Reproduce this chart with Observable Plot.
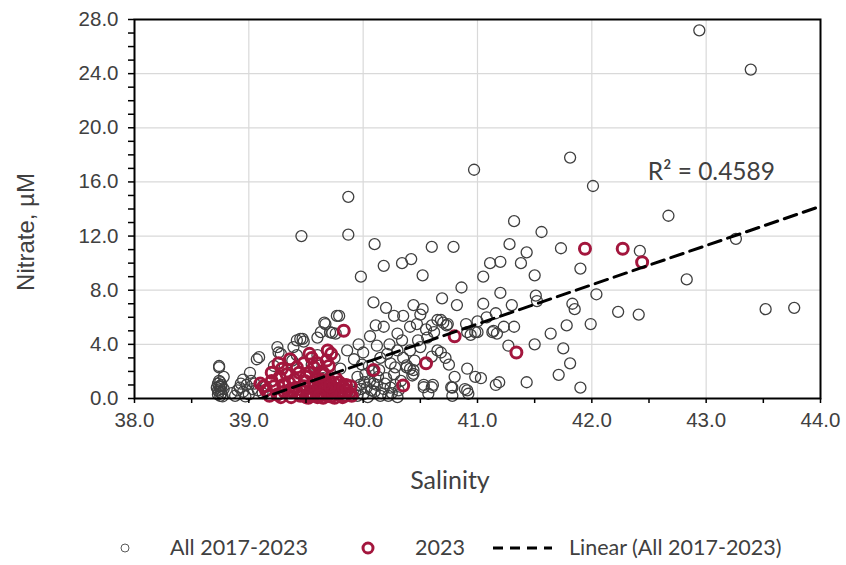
<!DOCTYPE html>
<html>
<head>
<meta charset="utf-8">
<script src="https://cdn.jsdelivr.net/npm/d3@7"></script>
<script src="https://cdn.jsdelivr.net/npm/@observablehq/plot@0.6"></script>
<style>
  body { margin: 0; background: #fff; }
  #chart { position: relative; width: 846px; height: 565px; overflow: hidden; background: #fff; }
  #chart > svg { position: absolute; left: 0; top: 0; }
  .xtitle { position: absolute; left: 350px; width: 200px; top: 464px; text-align: center;
            font: 25px Lato, "Open Sans", sans-serif; color: #404040; line-height: 30px; }
  .ytitle { position: absolute; left: 28px; top: 232px; width: 300px; margin-left: -150px; margin-top: -16px;
            height: 32px; line-height: 32px; text-align: center; transform: rotate(-90deg);
            font: 24px "Liberation Sans", Arial, sans-serif; color: #404040; }
  .leg { position: absolute; top: 534px; height: 28px; line-height: 28px;
         font: 21.5px Lato, "Open Sans", sans-serif; color: #404040; white-space: nowrap; }
  .leg svg { position: absolute; top: 0; }
</style>
</head>
<body>
<div id="chart"></div>
<script>
// Salinity vs nitrate, all samples 2017-2023: [salinity, nitrate µM]
const all20172023 = [
  [42.94, 27.2], [43.39, 24.3], [40.97, 16.9], [41.81, 17.8], [42.01, 15.7],
  [39.87, 14.9], [39.46, 12.0], [39.87, 12.1], [40.10, 11.4], [40.18, 9.8],
  [40.34, 10.0], [40.42, 10.3], [40.60, 11.2], [40.79, 11.2], [39.98, 9.0],
  [40.52, 9.1], [40.86, 8.2], [40.09, 7.1], [40.20, 6.7], [40.27, 6.1],
  [40.35, 6.1], [40.44, 6.9], [40.52, 6.6], [40.50, 6.2], [40.69, 7.4],
  [40.82, 6.9], [39.79, 6.1], [39.66, 5.6], [39.63, 4.9], [39.73, 4.85],
  [40.11, 5.4], [40.18, 5.3], [39.47, 4.4], [39.42, 4.3], [39.96, 4.0],
  [40.06, 4.6], [40.23, 4.0], [40.34, 4.3], [40.41, 5.3], [40.65, 5.8],
  [40.74, 5.5], [39.25, 3.8], [39.28, 3.3], [39.07, 2.9], [38.74, 2.3],
  [38.78, 1.6], [42.67, 13.5], [43.26, 11.8], [41.32, 13.1], [41.56, 12.3],
  [41.28, 11.4], [41.43, 10.8], [41.73, 11.1], [42.42, 10.9], [41.11, 10.0],
  [41.20, 10.1], [41.38, 10.0], [41.90, 9.6], [41.05, 9.0], [41.50, 9.1],
  [42.83, 8.8], [41.20, 7.8], [41.51, 7.6], [41.52, 7.2], [42.04, 7.7],
  [41.05, 7.0], [41.30, 6.9], [41.83, 7.0], [41.85, 6.6], [43.52, 6.6],
  [43.77, 6.7], [41.08, 6.0], [41.16, 6.3], [40.68, 5.8], [40.98, 4.9],
  [40.94, 4.7], [41.14, 5.0], [41.17, 4.8], [41.23, 5.3], [41.32, 5.3],
  [41.78, 5.4], [41.99, 5.5], [42.23, 6.4], [42.41, 6.2], [41.64, 4.8],
  [41.50, 4.0], [41.27, 3.9], [41.75, 3.7], [41.81, 2.6], [41.71, 1.75],
  [41.90, 0.8], [41.43, 1.2], [41.16, 1.0], [41.19, 1.2], [40.91, 2.2],
  [40.98, 1.6], [41.03, 1.5], [40.75, 2.5], [40.80, 1.6], [40.78, 0.8],
  [40.78, 0.2], [40.91, 0.6], [40.68, 3.4], [40.89, 0.7], [40.92, 0.35],
  [40.53, 1.0], [40.61, 1.0], [40.57, 0.35], [40.24, 2.6], [40.28, 2.3],
  [40.38, 2.3], [40.44, 2.1], [40.43, 1.7], [40.21, 3.3], [40.30, 3.55],
  [40.41, 3.55], [40.50, 3.8], [40.56, 4.5], [40.65, 3.55], [40.91, 4.9],
  [41.00, 4.9], [41.13, 4.9], [40.70, 5.6], [40.73, 5.4], [40.47, 5.5],
  [40.38, 2.44], [40.41, 2.19], [40.44, 1.82], [40.53, 0.83], [40.60, 0.83],
  [40.77, 0.83], [40.15, 3.0], [40.35, 3.0], [40.45, 2.8], [40.60, 3.1],
  [40.72, 3.0], [40.55, 5.1], [40.60, 5.4], [40.30, 4.8], [40.00, 3.4],
  [40.12, 3.9], [40.48, 4.3], [40.62, 4.9], [40.90, 5.5], [41.00, 5.7],
  [38.74, 2.4], [38.75, 1.2], [38.74, 0.9], [38.73, 0.6], [38.76, 0.4],
  [38.72, 0.8], [38.78, 0.7], [38.75, 0.2], [38.76, 1.0], [38.73, 0.3],
  [38.74, 0.5], [38.75, 0.7], [38.73, 1.1], [38.77, 0.15], [38.74, 1.3],
  [38.76, 0.9], [38.85, 0.4], [38.97, 0.15], [39.08, 0.6], [39.02, 1.3],
  [38.93, 1.1],
  [39.09, 3.05], [39.26, 3.4], [39.01, 1.9], [39.45, 4.4], [39.48, 4.2],
  [39.67, 5.5], [39.77, 6.1], [39.71, 4.9], [39.86, 3.55], [39.92, 2.9],
  [39.60, 4.5], [39.76, 4.8], [39.39, 3.8],
  [38.92, 0.8], [38.95, 0.5], [38.98, 1.0], [39.00, 0.3], [39.03, 0.7],
  [38.88, 0.2], [38.95, 1.4], [39.05, 1.1], [39.12, 0.4], [39.15, 0.9],
  [38.90, 0.6], [39.93, 0.5], [39.97, 1.0], [40.00, 0.3], [40.03, 0.8],
  [40.06, 1.3], [40.10, 0.5], [40.12, 1.0], [40.15, 0.2], [40.18, 0.7],
  [40.20, 1.5], [40.25, 0.4], [40.28, 1.0], [39.95, 1.6], [40.02, 1.8],
  [40.08, 2.0], [39.55, 2.5], [39.60, 3.2], [39.75, 3.0], [39.80, 2.2],
  [39.65, 1.5], [39.38, 2.8], [39.35, 1.9], [39.22, 2.4], [39.42, 3.2],
  [39.95, 0.2], [39.98, 0.7], [40.01, 1.2], [40.04, 0.1], [40.07, 0.6],
  [40.09, 1.1], [40.13, 1.6], [40.16, 0.4], [40.19, 1.1], [40.22, 0.2],
  [40.24, 0.8], [40.27, 1.8], [40.31, 0.6], [40.33, 1.3], [40.05, 2.4],
  [40.14, 2.1], [39.99, 2.5], [40.30, 0.1]
];

// Samples from 2023: [salinity, nitrate µM]
const year2023 = [
  [39.83, 5.0], [40.80, 4.6], [41.94, 11.06], [42.27, 11.06], [42.44, 10.07],
  [41.34, 3.4], [40.55, 2.6], [40.09, 2.1], [40.35, 0.96], [39.53, 3.3],
  [39.69, 3.55], [39.72, 3.3], [39.29, 2.2], [39.10, 1.1],
  [39.15, 0.6], [39.20, 1.3], [39.25, 0.3], [39.30, 1.0], [39.33, 1.8],
  [39.38, 0.5], [39.40, 1.4], [39.42, 2.3], [39.45, 0.2], [39.48, 0.9],
  [39.50, 1.6], [39.55, 0.4], [39.57, 1.2], [39.60, 0.1], [39.62, 0.7],
  [39.64, 2.0], [39.66, 0.3], [39.68, 1.0], [39.70, 0.5], [39.72, 0.15],
  [39.74, 0.8], [39.76, 1.5], [39.78, 0.3], [39.80, 0.6], [39.82, 0.1],
  [39.85, 1.0], [39.88, 0.4], [39.60, 2.6], [39.36, 2.9], [39.52, 0.05],
  [39.65, 0.05], [39.75, 0.05], [39.58, 0.6], [39.70, 2.4],
  [39.18, 0.2], [39.22, 0.9], [39.27, 1.6], [39.31, 0.5], [39.35, 1.2],
  [39.37, 0.1], [39.41, 0.8], [39.44, 1.9], [39.47, 0.6], [39.49, 1.3],
  [39.51, 0.3], [39.53, 1.9], [39.54, 1.0], [39.56, 0.2], [39.59, 1.5],
  [39.61, 0.9], [39.63, 0.4], [39.63, 1.4], [39.66, 1.8], [39.67, 0.7],
  [39.69, 0.2], [39.71, 1.3], [39.73, 0.5], [39.75, 1.1], [39.77, 0.7],
  [39.79, 1.2], [39.81, 0.4], [39.83, 0.8], [39.84, 0.2], [39.86, 0.6],
  [39.89, 0.9], [39.90, 0.2], [39.57, 2.3], [39.48, 2.6], [39.68, 2.8],
  [39.55, 3.0], [39.26, 2.6], [39.20, 1.9], [39.13, 0.9], [39.62, 0.2],
  [39.71, 0.9], [39.50, 0.1], [39.43, 0.4], [39.35, 0.6], [39.28, 0.1]
];

// Linear trend fitted to all 2017-2023 samples
const trendSlope = 2.9;
const trendIntercept = -113.4;
const trendRange = [38.72, 44];
const r2Label = "R² = 0.4589";

// Axis ticks
const xLabelTicks = [38, 39, 40, 41, 42, 43, 44];
const xMinorTicks = d3.range(38, 44.001, 0.5);
const yLabelTicks = [0, 4, 8, 12, 16, 20, 24, 28];
const yMinorTicks = d3.range(0, 28.001, 1);
const xGridLines = [39, 40, 41, 42, 43];
const yGridLines = [4, 8, 12, 16, 20, 24];

const trendLine = trendRange.map(s => ({s, n: trendSlope * s + trendIntercept}));
const toObj = ([s, n]) => ({s, n});

const plot = Plot.plot({
  width: 846,
  height: 440,
  marginLeft: 134,
  marginRight: 26,
  marginTop: 19,
  marginBottom: 42,
  x: {domain: [38, 44]},
  y: {domain: [0, 28]},
  style: {fontFamily: "'Liberation Sans', Arial, sans-serif", fontSize: "20.5px", color: "#404040", background: "transparent", overflow: "visible"},
  marks: [
    Plot.gridX(xGridLines, {stroke: "#d9d9d9", strokeOpacity: 1, strokeWidth: 1.2}),
    Plot.gridY(yGridLines, {stroke: "#d9d9d9", strokeOpacity: 1, strokeWidth: 1.2}),
    Plot.dot(all20172023.map(toObj), {x: "s", y: "n", r: 5.5, stroke: "#3f3f3f", strokeWidth: 1.3, fill: "none"}),
    Plot.dot(year2023.map(toObj), {x: "s", y: "n", r: 5.5, stroke: "#a3163d", strokeWidth: 3, fill: "none"}),
    Plot.line(trendLine, {x: "s", y: "n", stroke: "#000", strokeWidth: 3, strokeDasharray: "13,7", clip: true}),
    Plot.text([r2Label], {x: 42.49, y: 16.7, text: d => d, textAnchor: "start", fontSize: 24.5, fontFamily: "Lato, 'Open Sans', sans-serif", fill: "#404040"}),
    Plot.frame({stroke: "#000", strokeWidth: 2}),
    Plot.axisX({ticks: xMinorTicks, tickSize: 5, tickFormat: () => "", stroke: "#000", strokeWidth: 1.5, label: null}),
    Plot.axisX({ticks: xLabelTicks, tickSize: 0, tickPadding: 14, tickFormat: d => d.toFixed(1), fill: "#404040", label: null}),
    Plot.axisY({ticks: yMinorTicks, tickSize: 6, tickFormat: () => "", stroke: "#000", strokeWidth: 1.5, label: null}),
    Plot.axisY({ticks: yLabelTicks, tickSize: 0, tickPadding: 16, tickFormat: d => d.toFixed(1), fill: "#404040", label: null})
  ]
});

const chart = document.getElementById("chart");
chart.appendChild(plot);

const ytitle = document.createElement("div");
ytitle.className = "ytitle";
ytitle.textContent = "Nitrate, µM";
chart.appendChild(ytitle);

const xtitle = document.createElement("div");
xtitle.className = "xtitle";
xtitle.textContent = "Salinity";
chart.appendChild(xtitle);

// Legend below the plot
const legendItems = [
  {left: 110, textLeft: 170, label: "All 2017-2023",
   symbol: `<circle cx="15" cy="14" r="4" fill="none" stroke="#595959" stroke-width="1"/>`},
  {left: 353, textLeft: 415, label: "2023",
   symbol: `<circle cx="15" cy="14" r="5" fill="none" stroke="#a3163d" stroke-width="3"/>`},
  {left: 490, textLeft: 569, label: "Linear (All 2017-2023)",
   symbol: `<line x1="3" y1="14" x2="62" y2="14" stroke="#000" stroke-width="3" stroke-dasharray="10,7"/>`}
];
for (const item of legendItems) {
  const el = document.createElement("div");
  el.className = "leg";
  el.style.left = item.left + "px";
  el.style.width = (item.textLeft - item.left + 280) + "px";
  el.innerHTML = `<svg width="66" height="28" style="left:0">${item.symbol}</svg>` +
    `<span style="position:absolute;left:${item.textLeft - item.left}px">${item.label}</span>`;
  chart.appendChild(el);
}
</script>
</body>
</html>
